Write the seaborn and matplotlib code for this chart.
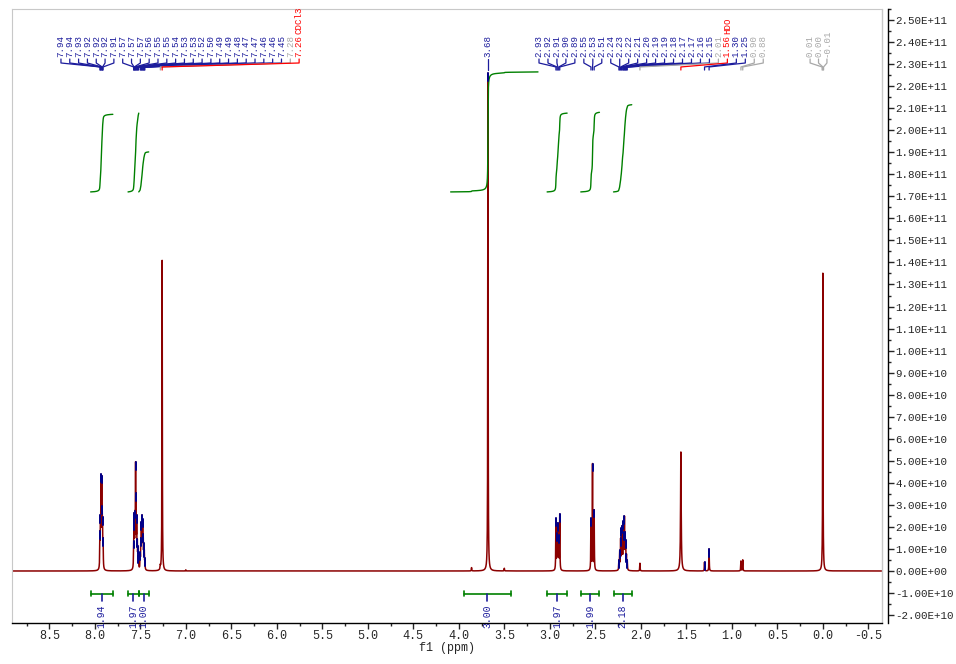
import numpy as np
import matplotlib
matplotlib.use('Agg')
import matplotlib.pyplot as plt
import seaborn as sns
from matplotlib.ticker import MultipleLocator, FuncFormatter

sns.set_style('white')
plt.rcParams['font.family'] = ['Liberation Mono', 'DejaVu Sans']

#%% peak list: shift (ppm), height (x1e10), label
# aromatic 7.94 - 7.91
ppm_a = [7.944, 7.938, 7.932, 7.924, 7.919, 7.915, 7.909]
h_a = [1.4, 1.8, 3.8, 3.6, 1.8, 1.6, 1.1]
lbl_a = ['7.94', '7.94', '7.93', '7.92', '7.92', '7.92', '7.91']

# aromatic 7.57 - 7.45
ppm_b = [7.573, 7.569, 7.566, 7.559, 7.552, 7.547, 7.540, 7.533, 7.527, 7.520,
         7.501, 7.494, 7.488, 7.481, 7.474, 7.468, 7.462, 7.456, 7.450]
h_b = [0.8, 1.2, 1.8, 2.0, 4.2, 2.5, 2.0, 1.0, 0.8, 0.5,
       0.6, 1.1, 1.8, 2.1, 1.9, 1.2, 0.9, 0.7, 0.4]
lbl_b = ['7.57', '7.57', '7.57', '7.56', '7.55', '7.55', '7.54', '7.53', '7.53', '7.52',
         '7.50', '7.49', '7.49', '7.48', '7.47', '7.47', '7.46', '7.46', '7.45']

# solvent
ppm_s = [7.28, 7.26]
h_s = [0.15, 14.1]
lbl_s = ['7.28', '7.26 CDCl3']

# OMe singlet
ppm_m = [3.68]
h_m = [22.6]
lbl_m = ['3.68']

# aliphatic multiplets
ppm_c = [2.933, 2.922, 2.912, 2.902, 2.891]
h_c = [2.3, 1.5, 2.0, 1.4, 2.5]
lbl_c = ['2.93', '2.92', '2.91', '2.90', '2.89']

ppm_d = [2.548, 2.531, 2.513]
h_d = [2.3, 4.8, 2.7]
lbl_d = ['2.55', '2.53', '2.51']

ppm_e = [2.241, 2.232, 2.222, 2.213, 2.204, 2.194, 2.188, 2.180, 2.172, 2.166, 2.158, 2.149]
h_e = [0.4, 0.8, 1.3, 1.7, 1.8, 1.9, 1.3, 2.2, 1.4, 1.1, 0.6, 0.4]
lbl_e = ['2.24', '2.23', '2.22', '2.21', '2.20', '2.19', '2.19', '2.18', '2.17', '2.17', '2.16', '2.15']

# impurities / water
ppm_f = [2.01, 1.56, 1.30, 1.25, 0.90, 0.88]
h_f = [0.35, 5.4, 0.4, 1.0, 0.45, 0.5]
lbl_f = ['2.01', '1.56 HDO', '1.30', '1.25', '0.90', '0.88']
col_f = ['g', 'r', 'b', 'b', 'g', 'g']

# TMS
ppm_t = [0.008, 0.0, -0.008]
h_t = [0.1, 13.5, 0.1]
lbl_t = ['0.01', '0.00', '-0.01']

# small unlabelled bumps
ppm_x = [3.86, 3.50, 7.00]
h_x = [0.15, 0.12, 0.05]

#%% integrals
int_from = [8.046, 7.635, 7.517, 4.09, 3.03, 2.66, 2.30]
int_to = [7.802, 7.517, 7.408, 3.13, 2.81, 2.455, 2.10]
bar_from = [8.046, 7.635, 7.517, 3.94, 3.03, 2.66, 2.30]
bar_to = [7.802, 7.517, 7.408, 3.43, 2.81, 2.455, 2.10]
int_val = [1.94, 1.97, 1.00, 3.00, 1.97, 1.99, 2.18]

#%% build spectrum (lorentzian lines)
E = 1e10
BLUE = '#1c1c9c'
GREY = '#a8a8a8'
RED = '#ff0000'
cmap = {'b': BLUE, 'g': GREY, 'r': RED}

all_ppm = ppm_a + ppm_b + ppm_s + ppm_m + ppm_c + ppm_d + ppm_e + ppm_f + ppm_t + ppm_x
all_h = h_a + h_b + h_s + h_m + h_c + h_d + h_e + h_f + h_t + h_x
hwhm = np.full(len(all_ppm), 0.0022)
hwhm[all_ppm.index(1.56)] = 0.004

x = np.linspace(-0.7, 9.0, 80001)
spec = np.zeros_like(x)
for p, h, w in zip(all_ppm, all_h, hwhm):
    spec += h * w**2 / (w**2 + (x - p)**2)

#%% figure
fig = plt.figure(figsize=(9.56, 6.64), dpi=100)
ax = fig.add_axes([12/956, (664-623)/664, 870/956, (623-9)/664])

sns.lineplot(x=x, y=spec*E, ax=ax, color='#8b0000', lw=1.1,
             estimator=None, sort=False, errorbar=None)

ax.set_xlim(8.91, -0.65)
ax.set_ylim(-2.36*E, 2.55e11)

# integral curves
base, unit = 17.2, 1.815
for lo, hi, v in zip(int_from, int_to, int_val):
    m = (x <= lo) & (x >= hi)
    xs = x[m][::-1]
    cs = np.cumsum(spec[m][::-1])
    cs = cs / cs[-1]
    ax.plot(xs, (base + v*unit*cs)*E, color='green', lw=1)

# integration bars and values
for lo, hi, v in zip(bar_from, bar_to, int_val):
    mid = (lo + hi) / 2
    ax.plot([lo, hi], [-1.04*E, -1.04*E], color='green', lw=1.2)
    ax.plot([lo, lo], [-0.93*E, -1.15*E], color='green', lw=1.2)
    ax.plot([hi, hi], [-0.93*E, -1.15*E], color='green', lw=1.2)
    ax.plot([mid, mid], [-1.04*E, -1.36*E], color=BLUE, lw=1.2)
    ax.text(mid, -1.5*E, '{:.2f}'.format(v), rotation=90, ha='center', va='top',
            fontsize=7, color=BLUE)

# peak labels with leader lines
groups = [
    (ppm_a + ppm_b + ppm_s, lbl_a + lbl_b + lbl_s,
     ['b']*26 + ['g', 'r'], np.linspace(8.372, 5.755, 28)),
    (ppm_m, lbl_m, ['b'], [3.68]),
    (ppm_c + ppm_d + ppm_e + ppm_f, lbl_c + lbl_d + lbl_e + lbl_f,
     ['b']*20 + col_f, np.linspace(3.119, 0.655, 26)),
    (ppm_t, lbl_t, ['g']*3, np.linspace(0.14, -0.045, 3)),
]
for pk, lb, cl, xl in groups:
    for p, t, c, xp in zip(pk, lb, cl, xl):
        col = cmap[c]
        ax.plot([xp, xp, p, p], [23.23*E, 23.05*E, 22.87*E, 22.73*E],
                color=col, lw=0.9, clip_on=False)
        parts = t.split(' ', 1)
        ax.text(xp, 23.3*E, parts[0], rotation=90, ha='center', va='bottom',
                fontsize=6.6, color=col, clip_on=False)
        if len(parts) > 1:
            # solvent name sits just above the shift
            ax.text(xp, 24.35*E, parts[1], rotation=90, ha='center', va='bottom',
                    fontsize=6.6, color=col, clip_on=False)
        if c == 'b':
            top = np.interp(p, x, spec)
            ax.plot([p, p], [(top - 0.35)*E, top*E], color='#00008b', lw=1.4)

# axes styling
ax.yaxis.tick_right()
ax.spines['right'].set_position(('outward', 4))
for s in ['top', 'left']:
    ax.spines[s].set_color('#c8c8c8')
for s in ['right', 'bottom']:
    ax.spines[s].set_color('black')
    ax.spines[s].set_linewidth(1)
ax.plot([1, 1], [0, 1], transform=ax.transAxes, color='#c8c8c8', lw=1, clip_on=False)

ax.xaxis.set_major_locator(MultipleLocator(0.5))
ax.xaxis.set_minor_locator(MultipleLocator(0.25))
ax.yaxis.set_major_locator(MultipleLocator(1e10))
ax.yaxis.set_minor_locator(MultipleLocator(0.5e10))
ax.xaxis.set_major_formatter(FuncFormatter(lambda v, pos: '{:.1f}'.format(round(v, 2) + 0.0)))
ax.yaxis.set_major_formatter(FuncFormatter(lambda v, pos: '{:.2E}'.format(round(v / 1e8) * 1e8 + 0.0)))
ax.tick_params(axis='x', which='major', direction='out', length=4, width=1, labelsize=8.5, pad=1, bottom=True)
ax.tick_params(axis='x', which='minor', direction='out', length=2, width=1, bottom=True)
ax.tick_params(axis='y', which='major', direction='out', length=4, width=1, labelsize=7.8, pad=1.5, right=True, left=False)
ax.tick_params(axis='y', which='minor', direction='out', length=2, width=1, right=True, left=False)
ax.set_xlabel('f1 (ppm)', fontsize=8.5, labelpad=0)
ax.set_ylabel('')

fig.savefig('out.png', dpi=100)
